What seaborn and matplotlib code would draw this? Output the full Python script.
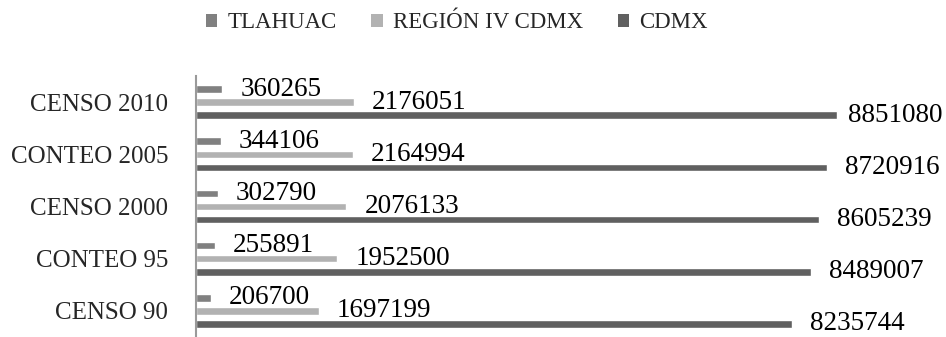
import pandas as pd
import numpy as np
import matplotlib
matplotlib.use('Agg')
import matplotlib.pyplot as plt
from matplotlib.patches import Patch
import seaborn as sns

# datos
censos = ['CENSO 2010', 'CONTEO 2005', 'CENSO 2000', 'CONTEO 95', 'CENSO 90']
series = ['TLAHUAC', 'REGIÓN IV CDMX', 'CDMX']
tlahuac = [360265, 344106, 302790, 255891, 206700]
region_iv = [2176051, 2164994, 2076133, 1952500, 1697199]
cdmx = [8851080, 8720916, 8605239, 8489007, 8235744]
colores = ['#808080', '#b2b2b2', '#606060']

sns.set_style('white')
plt.rcParams['font.family'] = ['Liberation Serif', 'DejaVu Serif']

df = pd.DataFrame({
    'censo': censos * 3,
    'serie': np.repeat(series, len(censos)),
    'valor': tlahuac + region_iv + cdmx,
})

fig = plt.figure(figsize=(9.46, 3.37), dpi=100)
ax = fig.add_axes([196 / 946, 0.0, 724 / 946, 261 / 337])

sns.barplot(data=df, x='valor', y='censo', hue='serie', order=censos,
            hue_order=series, palette=colores, orient='h', width=0.75,
            gap=0.42, errorbar=None, legend=False, ax=ax)

ax.set_xlim(0, 10e6)
ax.set_ylim(4.5, -0.5)
ax.set_xlabel('')
ax.set_ylabel('')
ax.set_xticks([])
ax.tick_params(axis='y', length=0, pad=20, labelsize=18)
for s in ['top', 'right', 'bottom']:
    ax.spines[s].set_visible(False)
ax.spines['left'].set_color('#9a9a9a')
ax.spines['left'].set_linewidth(1.5)

# etiquetas de datos
textos = []
for cont in ax.containers:
    for barra in cont:
        w = barra.get_width()
        yc = barra.get_y() + barra.get_height() / 2
        t = ax.annotate(f'{int(round(w))}', xy=(w, yc), xytext=(13, 0),
                        textcoords='offset points', ha='left', va='center',
                        fontsize=19.5, color='black', annotation_clip=False)
        textos.append(t)

# mover las etiquetas que se salen del lienzo
fig.canvas.draw()
rend = fig.canvas.get_renderer()
for t in textos:
    bb = t.get_window_extent(rend)
    limite = fig.bbox.width - 4
    if bb.x1 > limite:
        dx = (bb.x1 - limite) * 72 / fig.dpi
        t.xyann = (max(t.xyann[0] - dx, 2), t.xyann[1])

handles = [Patch(facecolor=c, edgecolor='none') for c in colores]
fig.legend(handles, series, loc='center', bbox_to_anchor=(0.483, 1 - 23 / 337),
           ncol=3, frameon=False, fontsize=16.5, handlelength=0.5,
           handleheight=0.5, handletextpad=0.45, columnspacing=1.5)

fig.savefig('out.png', dpi=100)
